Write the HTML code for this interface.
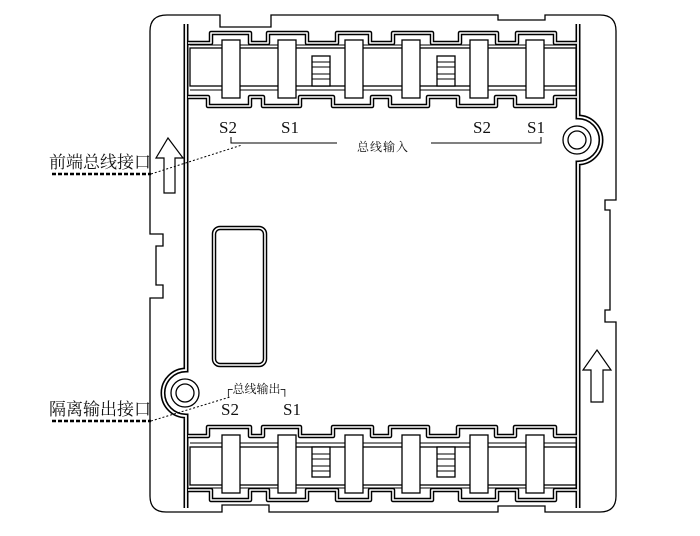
<!DOCTYPE html>
<html><head><meta charset="utf-8"><style>
html,body{margin:0;padding:0;background:#fff;width:700px;height:536px;overflow:hidden}
svg{display:block}
.t{font-family:"Liberation Serif","Noto Serif CJK SC",serif;fill:#111}
.c{font-family:"Liberation Serif","Noto Serif CJK SC","Noto Sans CJK SC",serif;fill:#111}
</style></head><body>
<svg width="700" height="536" viewBox="0 0 700 536" xmlns="http://www.w3.org/2000/svg">
<defs>
<g id="blk">
  <path d="M188,43 H211 V33 H250 V43 H268 V33 H307 V43 H337 V33 H370 V43 H393 V33 H432 V43 H460 V33 H497 V43 H517 V33 H555 V43 H577" fill="none" stroke="#000" stroke-width="4.5" stroke-linejoin="round"/>
  <path d="M188,43 H211 V33 H250 V43 H268 V33 H307 V43 H337 V33 H370 V43 H393 V33 H432 V43 H460 V33 H497 V43 H517 V33 H555 V43 H577" fill="none" stroke="#fff" stroke-width="1.6" stroke-linejoin="round"/>
  <path d="M188,97 H208 V106 H250 V97 H263 V106 H300 V97 H333 V106 H372 V97 H390 V106 H428 V97 H458 V106 H496 V97 H515 V106 H555 V97 H577" fill="none" stroke="#000" stroke-width="4.5" stroke-linejoin="round"/>
  <path d="M188,97 H208 V106 H250 V97 H263 V106 H300 V97 H333 V106 H372 V97 H390 V106 H428 V97 H458 V106 H496 V97 H515 V106 H555 V97 H577" fill="none" stroke="#fff" stroke-width="1.6" stroke-linejoin="round"/>
  <rect x="190" y="48" width="386" height="38" fill="#fff" stroke="#000" stroke-width="1.3"/>
  <line x1="190" y1="45" x2="576" y2="45" stroke="#000" stroke-width="1"/>
  <line x1="190" y1="90" x2="576" y2="90" stroke="#000" stroke-width="1"/>
  <g fill="#fff" stroke="#000" stroke-width="1.3">
    <rect x="222" y="40" width="18" height="58"/>
    <rect x="278" y="40" width="18" height="58"/>
    <rect x="345" y="40" width="18" height="58"/>
    <rect x="402" y="40" width="18" height="58"/>
    <rect x="470" y="40" width="18" height="58"/>
    <rect x="526" y="40" width="18" height="58"/>
    <rect x="312" y="56" width="18" height="30"/>
    <rect x="437" y="56" width="18" height="30"/>
  </g>
  <g stroke="#000" stroke-width="1">
    <line x1="312" y1="62" x2="330" y2="62"/><line x1="312" y1="67" x2="330" y2="67"/><line x1="312" y1="74" x2="330" y2="74"/><line x1="312" y1="79" x2="330" y2="79"/>
    <line x1="437" y1="62" x2="455" y2="62"/><line x1="437" y1="67" x2="455" y2="67"/><line x1="437" y1="74" x2="455" y2="74"/><line x1="437" y1="79" x2="455" y2="79"/>
  </g>
</g>
<path id="wall" d="M186,24 V370 A23,23 0 0 0 186,416 V508 M578,24 V117 A23,23 0 0 1 578,163 V508" fill="none"/>
</defs>

<path d="M167,15 H220 V27 H271 V15 H498 V20 H545 V15 H600 Q616,15 616,31 V200 H605 V210 H610 V310 H605 V322 H616 V496 Q616,512 600,512 H545 V506 H498 V512 H269 V505 H222 V512 H166 Q150,512 150,496 V298 H163 V285 H156 V246 H163 V234 H150 V31 Q150,15 167,15 Z" fill="none" stroke="#000" stroke-width="1.3"/>

<use href="#wall" stroke="#000" stroke-width="5"/>
<use href="#wall" stroke="#fff" stroke-width="1.8"/>
<circle cx="185" cy="393" r="9" fill="none" stroke="#000" stroke-width="1.3"/>
<circle cx="185" cy="393" r="14" fill="none" stroke="#000" stroke-width="1.3"/>
<circle cx="577" cy="140" r="9" fill="none" stroke="#000" stroke-width="1.3"/>
<circle cx="577" cy="140" r="14" fill="none" stroke="#000" stroke-width="1.3"/>

<use href="#blk"/>
<use href="#blk" transform="matrix(1,0,0,-1,0,533)"/>

<rect x="214" y="228" width="51" height="137" rx="6" fill="none" stroke="#000" stroke-width="4.5"/>
<rect x="214" y="228" width="51" height="137" rx="6" fill="none" stroke="#fff" stroke-width="1.6"/>

<path d="M168,138 L183,158 L175,158 L175,193 L164,193 L164,158 L156,158 Z" fill="#fff" stroke="#000" stroke-width="1.2"/>
<path d="M597,350 L611,370 L603,370 L603,402 L591,402 L591,370 L583,370 Z" fill="#fff" stroke="#000" stroke-width="1.2"/>

<text class="t" x="219" y="133" font-size="17">S2</text>
<text class="t" x="281" y="133" font-size="17">S1</text>
<text class="t" x="473" y="133" font-size="17">S2</text>
<text class="t" x="527" y="133" font-size="17">S1</text>
<path d="M231,137 V143 H337 M431,143 H541 V137" fill="none" stroke="#000" stroke-width="1"/>
<text class="c" x="357" y="151" font-size="12" letter-spacing="1">总线输入</text>

<text class="t" x="221" y="415" font-size="17">S2</text>
<text class="t" x="283" y="415" font-size="17">S1</text>
<text class="c" x="224" y="393" font-size="12">┌总线输出┐</text>

<text class="c" x="49" y="168" font-size="17" letter-spacing="0">前端总线接口</text>
<line x1="52" y1="174" x2="151" y2="174" stroke="#000" stroke-width="2.5" stroke-dasharray="4,2"/>
<line x1="151" y1="174" x2="242" y2="145" stroke="#000" stroke-width="1" stroke-dasharray="2,2"/>
<text class="c" x="49" y="415" font-size="17" letter-spacing="0">隔离输出接口</text>
<line x1="52" y1="421" x2="151" y2="421" stroke="#000" stroke-width="2.5" stroke-dasharray="4,2"/>
<line x1="151" y1="421" x2="230" y2="397" stroke="#000" stroke-width="1" stroke-dasharray="2,2"/>
</svg>
</body></html>
